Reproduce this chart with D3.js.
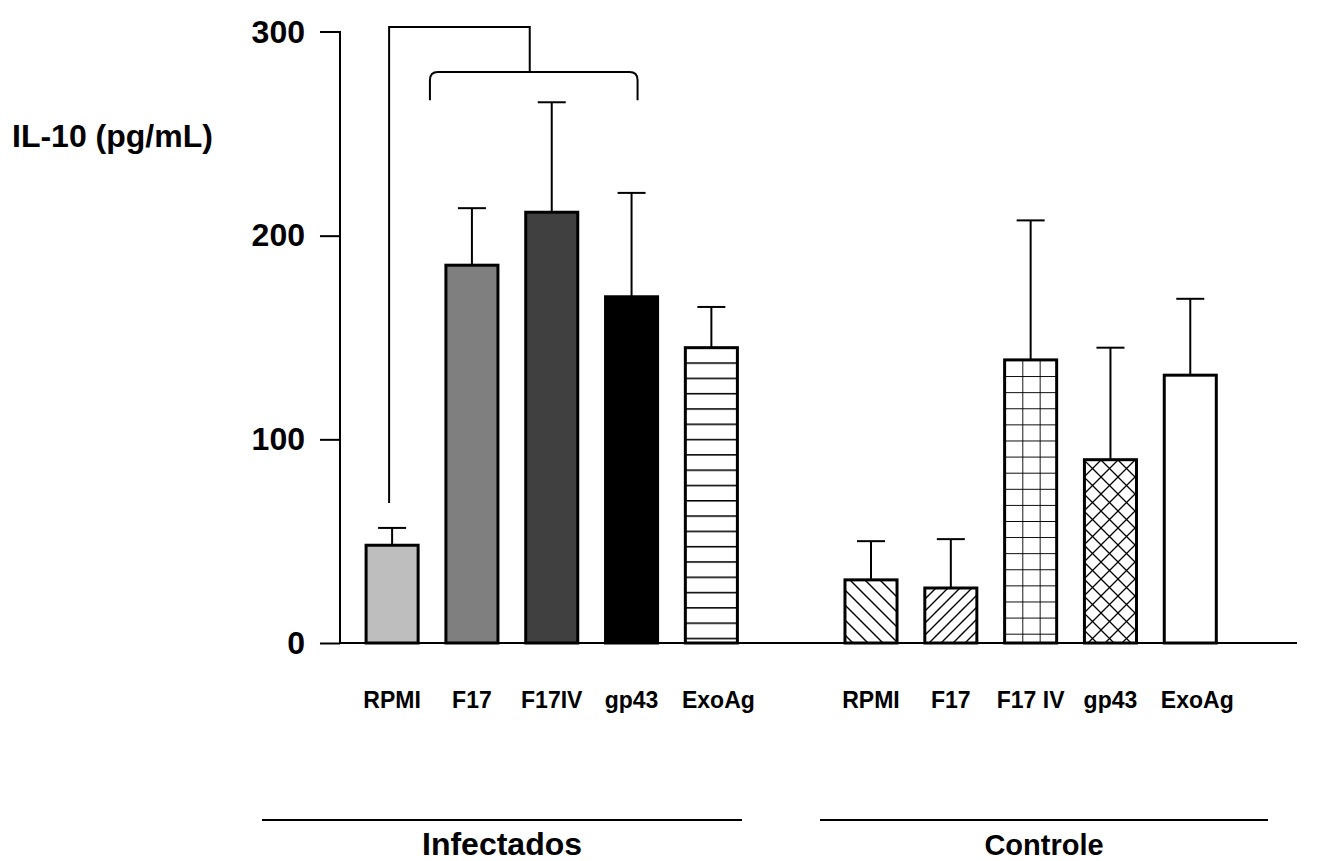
<!DOCTYPE html>
<html>
<head>
<meta charset="utf-8">
<script src="https://cdn.jsdelivr.net/npm/d3@7"></script>
<style>
  html, body { margin: 0; padding: 0; background: #fff; }
  svg { display: block; font-family: Arial, "Liberation Sans", sans-serif; font-weight: bold; }
</style>
</head>
<body>
<svg id="chart" width="1317" height="861"></svg>
<script>
// IL-10 production by stimulus, infected vs control groups
const groups = ["Infectados", "Controle"];
const infectadosLabels = ["RPMI", "F17", "F17IV", "gp43", "ExoAg", ""];
const infectadosMeans  = [48, 185.5, 211.5, 170, 145, 0];
const infectadosSEM    = [8.5, 28, 54, 51, 20, 0];
const controleLabels   = ["RPMI", "F17", "F17 IV", "gp43", "ExoAg", ""];
const controleMeans    = [31, 27, 139, 90, 131.5, 0];
const controleSEM      = [19, 24, 68.5, 55, 37.5, 0];
const yTicks = [0, 100, 200, 300];

// fills for each bar
const infectadosFills = ["#bebebe", "#7f7f7f", "#404040", "#000000", "url(#hlines)", "#fff"];
const controleFills   = ["url(#backdiag)", "url(#fwddiag)", "url(#grid)", "url(#cross)", "#fff", "#fff"];

const bars = [];
infectadosLabels.forEach((l, i) => bars.push({group: 0, label: l, mean: infectadosMeans[i], sem: infectadosSEM[i], fill: infectadosFills[i]}));
controleLabels.forEach((l, i) => bars.push({group: 1, label: l, mean: controleMeans[i], sem: controleSEM[i], fill: controleFills[i]}));
bars.forEach((d, i) => d.key = i);

const svg = d3.select("#chart");

// hatch patterns
const defs = svg.append("defs");
const hl = defs.append("pattern").attr("id", "hlines").attr("patternUnits", "userSpaceOnUse")
  .attr("width", 20).attr("height", 15.3).attr("y", 347);
hl.append("rect").attr("width", 20).attr("height", 15.3).attr("fill", "#fff");
hl.append("line").attr("x1", 0).attr("x2", 20).attr("y1", 0.75).attr("y2", 0.75).attr("stroke", "#000").attr("stroke-width", 1.6);

const bd = defs.append("pattern").attr("id", "backdiag").attr("patternUnits", "userSpaceOnUse")
  .attr("width", 15).attr("height", 15);
bd.append("rect").attr("width", 15).attr("height", 15).attr("fill", "#fff");
bd.append("path").attr("d", "M-2,-2 L17,17 M-2,13 L2,17 M13,-2 L17,2").attr("stroke", "#000").attr("stroke-width", 1.4);

const fd = defs.append("pattern").attr("id", "fwddiag").attr("patternUnits", "userSpaceOnUse")
  .attr("width", 12).attr("height", 12);
fd.append("rect").attr("width", 12).attr("height", 12).attr("fill", "#fff");
fd.append("path").attr("d", "M-2,14 L14,-2 M-2,2 L2,-2 M10,14 L14,10").attr("stroke", "#000").attr("stroke-width", 1.4);

const gr = defs.append("pattern").attr("id", "grid").attr("patternUnits", "userSpaceOnUse")
  .attr("width", 17.33).attr("height", 16.1).attr("x", 1005).attr("y", 360);
gr.append("rect").attr("width", 17.33).attr("height", 16.1).attr("fill", "#fff");
gr.append("path").attr("d", "M0,0 L17.33,0 M0,0 L0,16.1").attr("stroke", "#000").attr("stroke-width", 1.8);

const cr = defs.append("pattern").attr("id", "cross").attr("patternUnits", "userSpaceOnUse")
  .attr("width", 17).attr("height", 17).attr("x", 1084).attr("y", 460);
cr.append("rect").attr("width", 17).attr("height", 17).attr("fill", "#fff");
cr.append("path").attr("d", "M-2,-2 L19,19 M-2,15 L2,19 M15,-2 L19,2 M-2,19 L19,-2 M-2,2 L2,-2 M15,19 L19,15")
  .attr("stroke", "#000").attr("stroke-width", 1.3);

// scales
const x = d3.scaleBand().domain(bars.map(d => d.key)).range([352.2, 1310]).paddingInner(0.348).paddingOuter(0.174);
const y = d3.scaleLinear().domain([0, 300]).range([643, 32]);
const cx = k => x(k) + x.bandwidth() / 2;

// y axis
const yAxis = d3.axisLeft(y).tickValues(yTicks).tickSize(20).tickPadding(15);
const ga = svg.append("g").attr("transform", "translate(340,0)").call(yAxis);
ga.select(".domain").attr("stroke", "#000").attr("stroke-width", 2).attr("d", "M-20,32H0V643");
ga.selectAll(".tick line").attr("stroke", "#000").attr("stroke-width", 2);
ga.selectAll(".tick text").attr("font-size", 32).attr("font-weight", "bold").attr("fill", "#000")
  .attr("font-family", "Arial, 'Liberation Sans', sans-serif");
ga.selectAll(".tick").filter(d => d === 300).select("line").remove();

// baseline
svg.append("line").attr("x1", 340).attr("x2", 1297).attr("y1", y(0)).attr("y2", y(0))
  .attr("stroke", "#000").attr("stroke-width", 2);

// y title
svg.append("text").attr("x", 12).attr("y", 147).attr("font-size", 32).text("IL-10 (pg/mL)");

// error bars
const eb = svg.append("g").selectAll("g").data(bars.filter(d => d.sem > 0)).join("g");
eb.append("line").attr("x1", d => cx(d.key)).attr("x2", d => cx(d.key))
  .attr("y1", d => y(d.mean)).attr("y2", d => y(d.mean + d.sem)).attr("stroke", "#000").attr("stroke-width", 2);
eb.append("line").attr("x1", d => cx(d.key) - 14).attr("x2", d => cx(d.key) + 14)
  .attr("y1", d => y(d.mean + d.sem)).attr("y2", d => y(d.mean + d.sem)).attr("stroke", "#000").attr("stroke-width", 2);

// bars
svg.append("g").selectAll("rect").data(bars).join("rect")
  .attr("x", d => x(d.key)).attr("width", x.bandwidth())
  .attr("y", d => y(d.mean)).attr("height", d => y(0) - y(d.mean))
  .attr("fill", d => d.fill).attr("stroke", "#000").attr("stroke-width", 3);

// category labels (the last label in each row sits a little right of its bar)
svg.append("g").selectAll("text").data(bars).join("text")
  .attr("x", d => cx(d.key)).attr("y", 708).attr("text-anchor", "middle").attr("font-size", 23)
  .attr("dx", d => d.label === "ExoAg" ? 7 : 0)
  .text(d => d.label);

// group underlines and names
const groupFont = [32, 29];
groups.forEach((g, gi) => {
  const x0 = gi === 0 ? 262 : 820, x1 = gi === 0 ? 742 : 1268;
  svg.append("line").attr("x1", x0).attr("x2", x1).attr("y1", 820).attr("y2", 820)
    .attr("stroke", "#000").attr("stroke-width", 2);
  svg.append("text").attr("x", (x0 + x1) / 2).attr("y", 855).attr("text-anchor", "middle")
    .attr("font-size", groupFont[gi]).text(g);
});

// significance brackets
const b0 = bars[0], b1 = bars[1], b3 = bars[3];
const innerL = cx(b1.key) - 42, innerR = cx(b3.key) + 6, innerTop = y(280.4), innerEnd = y(266.5);
const innerMid = (innerL + innerR) / 2 - 4;
const r = 8;
svg.append("path").attr("fill", "none").attr("stroke", "#000").attr("stroke-width", 2)
  .attr("d", `M${innerL},${innerEnd} L${innerL},${innerTop + r} Q${innerL},${innerTop} ${innerL + r},${innerTop}
              L${innerR - r},${innerTop} Q${innerR},${innerTop} ${innerR},${innerTop + r} L${innerR},${innerEnd}`);
const outerX = cx(b0.key) - 3, outerTop = y(302.4), outerBottom = y(b0.mean + b0.sem) - 25;
svg.append("path").attr("fill", "none").attr("stroke", "#000").attr("stroke-width", 2)
  .attr("d", `M${outerX},${outerBottom} L${outerX},${outerTop} L${innerMid},${outerTop} L${innerMid},${innerTop}`);
</script>
</body>
</html>
